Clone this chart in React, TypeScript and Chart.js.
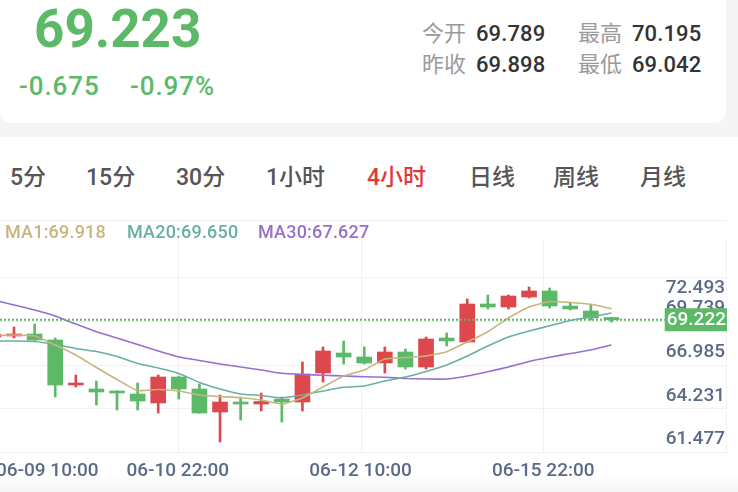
import React, { useEffect, useRef } from "react";
import { Chart, registerables } from "chart.js";

Chart.register(...registerables);

// ---- data (4-hour candles) ----
const openPrices = [
  68.136, 68.199, 68.325, 67.947, 65.114, 64.863, 64.737, 64.548, 63.981, 65.618,
  64.863, 63.415, 64.044, 63.918, 64.233, 64.044, 65.87, 67.129, 66.877, 66.499,
  67.192, 66.248, 68.073, 67.821, 70.213, 70.025, 70.654, 71.032, 70.087, 69.773, 69.364,
];
const closePrices = [
  68.325, 68.325, 67.947, 65.114, 65.24, 64.674, 64.611, 64.107, 65.618, 64.863,
  63.352, 64.044, 63.918, 64.076, 64.044, 65.807, 67.255, 66.877, 66.499, 67.192,
  66.248, 68.01, 67.884, 70.213, 70.025, 70.717, 71.032, 70.087, 69.899, 69.332, 69.222,
];
const highPrices = [
  68.514, 68.766, 68.954, 68.073, 65.744, 65.366, 64.75, 65.24, 65.744, 65.681,
  65.177, 64.485, 64.359, 64.611, 64.359, 66.562, 67.507, 67.884, 67.507, 67.507,
  67.381, 68.136, 68.388, 70.528, 70.78, 70.78, 71.284, 71.221, 70.276, 70.15, 69.38,
];
const lowPrices = [
  68.01, 68.073, 67.92, 64.359, 64.989, 63.856, 63.541, 63.541, 63.352, 64.233,
  63.34, 61.527, 62.911, 63.478, 62.786, 63.478, 65.303, 66.436, 66.436, 65.87,
  66.122, 66.122, 67.57, 67.8, 69.899, 69.899, 70.591, 69.962, 69.836, 69.206, 69.08,
];
const ma1 = [
  68.231, 68.262, 68.199, 67.633, 67.003, 66.216, 65.461, 64.768, 64.831, 64.737,
  64.485, 64.391, 64.315, 64.17, 63.919, 64.296, 64.989, 65.681, 66.059, 66.751,
  66.846, 66.94, 67.211, 67.821, 68.47, 69.332, 70.025, 70.371, 70.308, 70.195, 69.918,
];
const ma20 = [
  67.884, 67.884, 67.853, 67.664, 67.412, 67.223, 66.909, 66.468, 66.185, 65.839,
  65.272, 64.863, 64.548, 64.454, 64.315, 64.485, 64.737, 64.97, 65.052, 65.366,
  65.618, 65.964, 66.374, 66.94, 67.57, 68.136, 68.514, 68.841, 69.175, 69.395, 69.65,
];
const ma30 = [
  70.465, 70.15, 69.836, 69.458, 68.954, 68.47, 68.073, 67.664, 67.255, 66.877,
  66.657, 66.437, 66.248, 66.059, 65.851, 65.776, 65.725, 65.681, 65.637, 65.599,
  65.524, 65.492, 65.492, 65.681, 65.952, 66.248, 66.594, 66.858, 67.097, 67.318, 67.627,
];
const yTickLabels = ["72.493", "69.739", "66.985", "64.231", "61.477"];
const xTickLabels = ["06-09 10:00", "06-10 22:00", "06-12 10:00", "06-15 22:00"];
const lastPrice = 69.222;
const lastPriceText = "69.222";
const maNames = ["MA1", "MA20", "MA30"];
const maValues = ["69.918", "69.650", "67.627"];
const tabs = ["5分", "15分", "30分", "1小时", "4小时", "日线", "周线", "月线"];
const activeTab = "4小时";
const headPrice = "69.223";
const headChange = "-0.675";
const headPct = "-0.97%";
const statLabels = ["今开", "最高", "昨收", "最低"];
const statValues = ["69.789", "70.195", "69.898", "69.042"];

// ---- styles ----
const RED = "#dd484d";
const GREEN = "#5cb968";
const MA_COLORS = ["#c8b47e", "#68b0a4", "#9670cd"];
const AXIS_TEXT = "#5b6a86";
const GRID = "#f1f1f1";
const FONT = "Roboto, 'Noto Sans CJK SC', sans-serif";

const tabLeft = [10, 86, 176, 266, 367, 469, 553, 640];
const maLeft = [5, 127, 258];

const overlay = {
  id: "overlay",
  beforeDatasetsDraw(chart: any) {
    const { ctx, chartArea: a } = chart;
    ctx.save();
    ctx.strokeStyle = GRID;
    ctx.lineWidth = 1;
    for (let k = 0; k <= 4; k++) {
      const y = Math.round(a.top + (k * (a.bottom - a.top)) / 4) + 0.5;
      ctx.beginPath();
      ctx.moveTo(0, y);
      ctx.lineTo(a.right + 1, y);
      ctx.stroke();
    }
    const l0 = a.left - 5;
    for (let k = 1; k <= 4; k++) {
      const x = Math.round(l0 + (k * (a.right - l0)) / 4) + 0.5;
      ctx.beginPath();
      ctx.moveTo(x, a.top - 37);
      ctx.lineTo(x, a.bottom);
      ctx.stroke();
    }
    ctx.restore();
  },
  afterDatasetsDraw(chart: any) {
    const { ctx, chartArea: a, scales } = chart;
    const yScale = scales.y;
    ctx.save();
    // y labels
    ctx.font = `500 19px ${FONT}`;
    ctx.fillStyle = AXIS_TEXT;
    ctx.textAlign = "right";
    ctx.textBaseline = "middle";
    yTickLabels.forEach((t, k) => {
      const gy = a.top + (k * (a.bottom - a.top)) / 4;
      const y = k === 0 ? gy + 11 : gy - 12.5;
      ctx.fillText(t, a.right - 1, y);
    });
    // last price box + dotted line
    ctx.font = `500 19px ${FONT}`;
    const w = ctx.measureText(lastPriceText).width;
    const py = yScale.getPixelForValue(lastPrice);
    const boxL = a.right - w - 2;
    ctx.strokeStyle = GREEN;
    ctx.lineWidth = 2;
    ctx.setLineDash([2, 2]);
    ctx.beginPath();
    ctx.moveTo(a.left, py);
    ctx.lineTo(boxL, py);
    ctx.stroke();
    ctx.setLineDash([]);
    ctx.fillStyle = GREEN;
    ctx.fillRect(boxL, py - 11.5, w + 3, 23);
    ctx.fillStyle = "#ffffff";
    ctx.fillText(lastPriceText, a.right, py + 1);
    // x labels
    ctx.font = `500 19px ${FONT}`;
    ctx.fillStyle = AXIS_TEXT;
    const l0 = a.left - 5;
    xTickLabels.forEach((t, k) => {
      const x = l0 + (k * (a.right - l0)) / 4;
      if (k === 0) {
        ctx.textAlign = "left";
        ctx.fillText(t, a.left - 4, a.bottom + 19);
      } else {
        ctx.textAlign = "center";
        ctx.fillText(t, x, a.bottom + 19);
      }
    });
    ctx.restore();
  },
};

export default function App() {
  const ref = useRef<HTMLCanvasElement>(null);

  useEffect(() => {
    const canvas = ref.current;
    if (!canvas) return;
    document.body.style.margin = "0";
    const up = (i: number) => closePrices[i] >= openPrices[i];
    const colorFn = (c: any) => (up(c.dataIndex) ? RED : GREEN);
    const maSets = [ma1, ma20, ma30].map((arr, m) => ({
      type: "line" as const,
      label: maNames[m],
      data: arr.map((v, i) => ({ x: i, y: v })),
      borderColor: MA_COLORS[m],
      borderWidth: 1.6,
      pointRadius: 0,
      tension: 0.15,
      order: 1,
    }));
    const chart = new Chart(canvas, {
      type: "bar",
      data: {
        datasets: [
          ...maSets,
          {
            type: "bar",
            label: "body",
            data: openPrices.map((o, i) => ({ x: i, y: [o, closePrices[i]] })),
            backgroundColor: colorFn,
            barThickness: 15,
            minBarLength: 2,
            grouped: false,
            order: 2,
          },
          {
            type: "bar",
            label: "wick",
            data: lowPrices.map((l, i) => ({ x: i, y: [l, highPrices[i]] })),
            backgroundColor: colorFn,
            barThickness: 2,
            grouped: false,
            order: 3,
          },
        ] as any,
      },
      options: {
        animation: false,
        responsive: false,
        maintainAspectRatio: false,
        events: [],
        layout: { padding: { top: 56, bottom: 40, left: 0, right: 12 } },
        plugins: { legend: { display: false }, tooltip: { enabled: false } },
        scales: {
          x: { type: "linear", min: 0.32, max: 35.56, display: false, offset: false },
          y: { type: "linear", min: 60.897, max: 71.913, display: false },
        },
      } as any,
      plugins: [overlay],
    });
    return () => chart.destroy();
  }, []);

  const abs = (o: any): React.CSSProperties => ({ position: "absolute", whiteSpace: "nowrap", ...o });

  return (
    <div style={{ position: "absolute", left: 0, top: 0, width: 738, height: 492, background: "#ffffff", overflow: "hidden", fontFamily: FONT }}>
      {/* top gray area + card */}
      <div style={abs({ left: 0, top: 0, width: 738, height: 137, background: "#f5f5f5" })} />
      <div style={abs({ left: 0, top: 0, width: 726, height: 123, background: "#ffffff", borderRadius: "0 0 12px 12px" })} />
      <div style={abs({ left: 34, top: 2.5, fontSize: 53, lineHeight: "53px", fontWeight: 700, color: GREEN })}>{headPrice}</div>
      <div style={abs({ left: 19, top: 73, fontSize: 26, lineHeight: "26px", fontWeight: 500, color: GREEN, letterSpacing: 0.9 })}>{headChange}</div>
      <div style={abs({ left: 130, top: 73, fontSize: 26, lineHeight: "26px", fontWeight: 500, color: GREEN, letterSpacing: 0.9 })}>{headPct}</div>
      {statLabels.map((t, i) => {
        const col = i % 2;
        const row = Math.floor(i / 2);
        const lx = col === 0 ? 422 : 578;
        const vx = col === 0 ? 476 : 632;
        const top = row === 0 ? 22.5 : 54;
        return (
          <React.Fragment key={t}>
            <div style={abs({ left: lx, top, fontSize: 22, lineHeight: "22px", color: "#9a9a9a" })}>{t}</div>
            <div style={abs({ left: vx, top, fontSize: 22, lineHeight: "22px", fontWeight: 500, color: "#333333", letterSpacing: 0.1 })}>{statValues[i]}</div>
          </React.Fragment>
        );
      })}
      {/* tabs */}
      {tabs.map((t, i) => (
        <div key={t} style={abs({ left: tabLeft[i], top: 165.5, fontSize: 23, lineHeight: "23px", fontWeight: 500, color: t === activeTab ? "#e0393d" : "#555555" })}>{t}</div>
      ))}
      <div style={abs({ left: 0, top: 220, width: 727, height: 1, background: "#f0f0f0" })} />
      {/* chart */}
      <canvas ref={ref} width={738} height={271} style={{ position: "absolute", left: 0, top: 221, width: 738, height: 271 }} />
      <div style={abs({ left: 0, top: 476, width: 738, height: 16, background: "linear-gradient(rgba(243,243,243,0), rgba(243,243,243,0.9))" })} />
      {/* MA legend */}
      {maNames.map((n, i) => (
        <div key={n} style={abs({ left: maLeft[i], top: 223, fontSize: 18, lineHeight: "18px", fontWeight: 500, color: MA_COLORS[i], letterSpacing: 0.2 })}>{`${n}:${maValues[i]}`}</div>
      ))}
    </div>
  );
}
